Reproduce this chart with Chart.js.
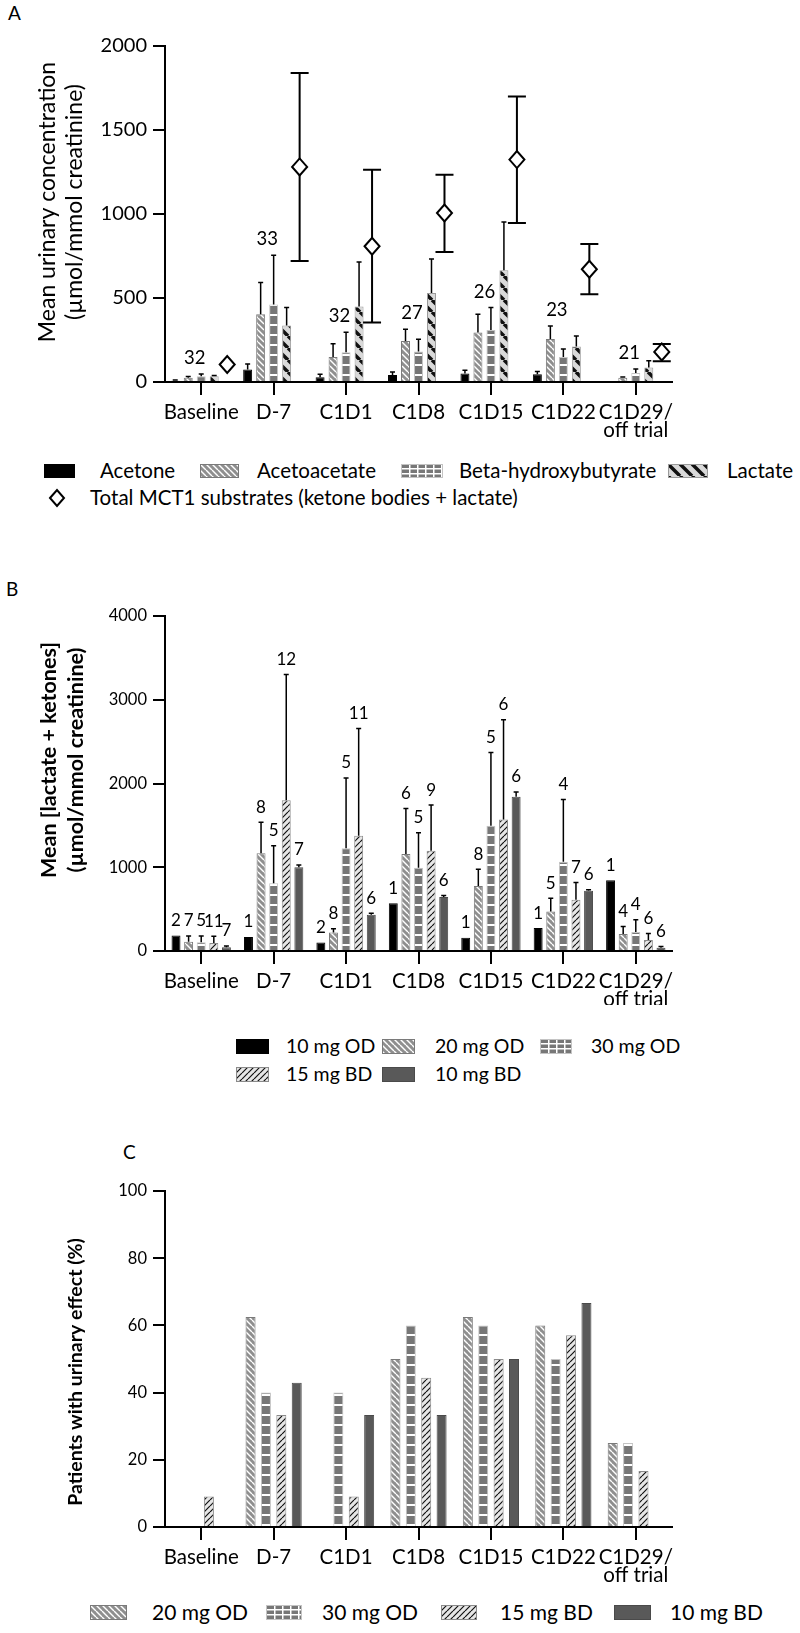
<!DOCTYPE html>
<html><head><meta charset="utf-8">
<script src="https://cdn.jsdelivr.net/npm/chart.js@4.4.1/dist/chart.umd.min.js"></script>
<style>
html,body{margin:0;padding:0;background:#fff}
body{position:relative;width:800px;height:1633px;overflow:hidden;font-family:Lato,sans-serif;color:#000}
canvas.chart{position:absolute;left:0}
.pl{position:absolute;font-size:19px;line-height:1}
.lg{position:absolute;white-space:nowrap;line-height:1}
.sw{position:absolute}
</style></head><body>
<div class="pl" style="left:8px;top:3px">A</div>
<div class="pl" style="left:6px;top:579px">B</div>
<div class="pl" style="left:123px;top:1142px">C</div>
<canvas id="cA" class="chart" width="800" height="445" style="top:0;width:800px;height:445px"></canvas>
<canvas id="cB" class="chart" width="800" height="445" style="top:560px;width:800px;height:445px"></canvas>
<canvas id="cC" class="chart" width="800" height="450" style="top:1140px;width:800px;height:450px"></canvas>
<script>
// ---------- DATA ----------
const categories = ['Baseline','D-7','C1D1','C1D8','C1D15','C1D22',['C1D29/','off trial']];

// Panel A
const yTicksA = [0,500,1000,1500,2000];
const acetone         = [8, 74, 28, 42, 50, 46, 6];
const acetoneErr      = [12, 107, 46, 60, 70, 62, null];
const acetoacetate    = [26, 403, 149, 244, 294, 256, 26];
const acetoacetateErr = [32, 592, 228, 314, 403, 333, 30];
const bhb             = [34, 462, 177, 181, 310, 149, 54];
const bhbErr          = [48, 754, 296, 254, 443, 197, 78];
const lactate         = [34, 336, 450, 530, 665, 212, 86];
const lactateErr      = [38, 443, 714, 732, 952, 274, 127];
const totalMCT1       = [104, 1280, 808, 1006, 1324, 671, 179];
const totalLow        = [null, 720, 354, 774, 946, 522, 123];
const totalHigh       = [null, 1839, 1264, 1234, 1700, 821, 226];
const nA              = [32, 33, 32, 27, 26, 23, 21];

// Panel B
const yTicksB = [0,1000,2000,3000,4000];
const od10      = [186, 167, 102, 571, 158, 274, 845];
const od10N     = [2, 1, 2, 1, 1, 1, 1];
const od20      = [110, 1167, 222, 1158, 777, 472, 202];
const od20Err   = [180, 1536, 265, 1702, 976, 631, 293];
const od20N     = [7, 8, 8, 6, 8, 5, 4];
const od30      = [105, 810, 1226, 995, 1496, 1067, 226];
const od30Err   = [180, 1257, 2067, 1412, 2369, 1810, 373];
const od30N     = [5, 5, 5, 5, 5, 4, 4];
const bd15      = [95, 1801, 1376, 1198, 1571, 611, 130];
const bd15Err   = [175, 3301, 2658, 1742, 2762, 817, 210];
const bd15N     = [11, 12, 11, 9, 6, 7, 6];
const bd10      = [45, 1000, 432, 646, 1841, 718, 40];
const bd10Err   = [60, 1027, 452, 662, 1900, 730, 55];
const bd10N     = [7, 7, 6, 6, 6, 6, 6];

// Panel C
const yTicksC = [0,20,40,60,80,100];
const pct20OD = [0, 62.5, 0, 50, 62.5, 60, 25];
const pct30OD = [0, 40, 40, 60, 60, 50, 25];
const pct15BD = [9.1, 33.3, 9.1, 44.4, 50, 57.1, 16.7];
const pct10BD = [0, 42.9, 33.3, 33.3, 50, 66.7, 0];

// ---------- PATTERNS ----------
function tile(w,h,draw){const c=document.createElement('canvas');c.width=w;c.height=h;draw(c.getContext('2d'),w,h);return c;}
function diag(x,s,dir,color,lw){x.strokeStyle=color;x.lineWidth=lw;x.beginPath();
  for(let k=-1;k<=1;k++){ if(dir==='\\'){x.moveTo(k*s,0);x.lineTo(k*s+s,s);} else {x.moveTo(k*s,s);x.lineTo(k*s+s,0);} } x.stroke();}
const tiles = {
  grayHatch: tile(6,6,(x,w,h)=>{x.fillStyle='#8f8f8f';x.fillRect(0,0,w,h);diag(x,6,'\\','#ffffff',1.4);}),
  hLines:    tile(10,10,(x,w,h)=>{x.fillStyle='#777777';x.fillRect(0,0,w,h);x.fillStyle='#ffffff';x.fillRect(0,4,w,2);}),
  lactate:   tile(12,12,(x,w,h)=>{x.fillStyle='#d9d9d9';x.fillRect(0,0,w,h);diag(x,12,'\\','#111111',3.5);}),
  fwd:       tile(6,6,(x,w,h)=>{x.fillStyle='#e6e6e6';x.fillRect(0,0,w,h);diag(x,6,'/','#111111',1.2);})
};
function fillFor(ctx,kind){
  if(kind==='black') return '#000000';
  if(kind==='dark') return '#595959';
  return ctx.createPattern(tiles[kind],'repeat');
}
const borderFor = {black:'#000000', dark:'#4a4a4a', grayHatch:'#7a7a7a', hLines:'#c4c4c4', lactate:'#9a9a9a', fwd:'#8a8a8a'};

// ---------- PLUGINS ----------
const titles = {
  cA:{lines:['Mean urinary concentration','(µmol/mmol creatinine)'], xs:[48,75], cy:202, size:23, weight:'normal'},
  cB:{lines:['Mean [lactate + ketones]','(µmol/mmol creatinine)'], xs:[49,76], cy:200, size:21.5, weight:'bold'},
  cC:{lines:['Patients with urinary effect (%)'], xs:[76], cy:232, size:19.5, weight:'bold'}
};
const yTitlePlugin = {id:'ytitle', afterDraw(chart){
  const t = titles[chart.canvas.id]; if(!t) return;
  const ctx=chart.ctx; ctx.save(); ctx.fillStyle='#000'; ctx.font=t.weight+' '+t.size+'px Lato';
  ctx.textAlign='center'; ctx.textBaseline='middle';
  t.lines.forEach((s,i)=>{ctx.save();ctx.translate(t.xs[i],t.cy);ctx.rotate(-Math.PI/2);ctx.fillText(s,0,0);ctx.restore();});
  ctx.restore();
}};
const errPlugin = {id:'errbars', afterDatasetsDraw(chart){
  const ctx=chart.ctx, ys=chart.scales.y;
  chart.data.datasets.forEach((ds,i)=>{
    if(!ds.errHigh) return;
    const meta=chart.getDatasetMeta(i);
    meta.data.forEach((bar,j)=>{
      const hi=ds.errHigh[j]; if(hi==null) return;
      const lo = ds.errLow ? ds.errLow[j] : ds.data[j];
      const x=bar.x, yh=ys.getPixelForValue(hi), yl=ys.getPixelForValue(lo==null?ds.data[j]:lo);
      ctx.save(); ctx.strokeStyle='#000'; ctx.lineWidth=ds.errWidth||1.5;
      ctx.beginPath(); ctx.moveTo(x,yl); ctx.lineTo(x,yh);
      ctx.moveTo(x-ds.errCap,yh); ctx.lineTo(x+ds.errCap,yh);
      if(ds.errLow){ctx.moveTo(x-ds.errCap,yl); ctx.lineTo(x+ds.errCap,yl);}
      ctx.stroke(); ctx.restore();
    });
  });
  chart.data.datasets.forEach((ds,i)=>{
    if(!ds.diamond) return;
    chart.getDatasetMeta(i).data.forEach((bar,j)=>{
      const x=bar.x, y=ys.getPixelForValue(ds.data[j]);
      ctx.save(); ctx.beginPath(); ctx.moveTo(x-7.5,y); ctx.lineTo(x,y-8.5); ctx.lineTo(x+7.5,y); ctx.lineTo(x,y+8.5); ctx.closePath();
      ctx.fillStyle='#fff'; ctx.fill(); ctx.strokeStyle='#000'; ctx.lineWidth=2; ctx.stroke(); ctx.restore();
    });
  });
}};
const nModes = {cA:{mode:'group', size:18.5, gap:16}, cB:{mode:'bar', size:17, gap:15}};
const nPlugin = {id:'nlab', afterDatasetsDraw(chart){
  const o=nModes[chart.canvas.id]; if(!o) return;
  const ctx=chart.ctx, ys=chart.scales.y; ctx.save(); ctx.fillStyle='#000'; ctx.font=o.size+'px Lato';
  ctx.textAlign='center'; ctx.textBaseline='middle';
  if(o.mode==='group'){
    const metas=[0,1,2,3].map(i=>chart.getDatasetMeta(i));
    chart.data.labels.forEach((_,j)=>{
      const cx=(metas[0].data[j].x+metas[3].data[j].x)/2;
      let top=Infinity;
      [0,1,2].forEach(i=>{const ds=chart.data.datasets[i]; const v=Math.max(ds.data[j], ds.errHigh[j]==null?0:ds.errHigh[j]); top=Math.min(top, ys.getPixelForValue(v));});
      ctx.fillText(String(nA[j]), cx, top-o.gap);
    });
  } else {
    chart.data.datasets.forEach((ds,i)=>{
      if(!ds.nLabels) return;
      chart.getDatasetMeta(i).data.forEach((bar,j)=>{
        const n=ds.nLabels[j]; if(n==null) return;
        const v=Math.max(ds.data[j], ds.errHigh && ds.errHigh[j]!=null ? ds.errHigh[j] : 0);
        ctx.fillText(String(n), bar.x, ys.getPixelForValue(v)-o.gap);
      });
    });
  }
  ctx.restore();
}};

// ---------- OPTIONS ----------
function makeOptions(o){
  return {
    responsive:false, animation:false, devicePixelRatio:1, events:[],
    layout:{padding:{top:o.top,right:128,left:0,bottom:0}},
    datasets:{bar:{categoryPercentage:o.cat, barPercentage:o.bar, borderWidth:1, borderSkipped:'start'}},
    plugins:{legend:{display:false}, tooltip:{enabled:false}},
    scales:{
      x:{ offset:true,
          grid:{display:true, offset:false, drawOnChartArea:false, drawTicks:true, tickLength:13, color:'#000', lineWidth:2},
          border:{display:true, color:'#000', width:2},
          ticks:{color:'#000', font:{family:'Lato', size:20.5, lineHeight:0.88}, padding:8, maxRotation:0, minRotation:0, autoSkip:false},
          afterFit:s=>{s.height=o.xh;} },
      y:{ min:0, max:o.ticks[o.ticks.length-1],
          afterBuildTicks:s=>{s.ticks=o.ticks.map(v=>({value:v}));},
          grid:{display:true, drawOnChartArea:false, drawTicks:true, tickLength:12, color:'#000', lineWidth:2},
          border:{display:true, color:'#000', width:2},
          ticks:{color:'#000', font:{family:'Lato', size:o.ytick}, padding:6, callback:v=>String(v)},
          afterFit:s=>{s.width=165;} }
    }
  };
}
function ds(ctx,label,data,kind,extra){
  return Object.assign({label, data, backgroundColor:fillFor(ctx,kind), borderColor:borderFor[kind], errCap:2.5, errWidth:1.5}, extra||{});
}

// ---------- LEGENDS ----------
function drawSwatch(x,kind,w,h){
  if(kind==='diamond'){
    const cx=w/2, cy=h/2; x.beginPath(); x.moveTo(cx-7,cy); x.lineTo(cx,cy-8); x.lineTo(cx+7,cy); x.lineTo(cx,cy+8); x.closePath();
    x.fillStyle='#fff'; x.fill(); x.strokeStyle='#000'; x.lineWidth=2; x.stroke(); return;
  }
  x.fillStyle=fillFor(x, kind==='grid'?'hLines':kind); x.fillRect(0,0,w,h);
  if(kind==='grid'){
    x.fillStyle='#777'; x.fillRect(0,0,w,h); x.fillStyle='#fff';
    for(let yy=4; yy<h-1; yy+=5) x.fillRect(0,yy,w,1.5);
    for(let xx=8; xx<w-1; xx+=8) x.fillRect(xx,0,1.5,h);
  }
  x.strokeStyle=borderFor[kind==='grid'?'hLines':kind]||'#000'; x.lineWidth=1; x.strokeRect(0.5,0.5,w-1,h-1);
}
function legendItem(kind,swX,swW,swH,textX,cy,label,size){
  const c=document.createElement('canvas'); c.width=swW; c.height=swH; c.className='sw';
  c.style.left=swX+'px'; c.style.top=(cy-swH/2)+'px'; drawSwatch(c.getContext('2d'),kind,swW,swH); document.body.appendChild(c);
  const d=document.createElement('div'); d.className='lg'; d.textContent=label; d.style.left=textX+'px';
  d.style.fontSize=size+'px'; d.style.top=(cy-size*0.53)+'px'; document.body.appendChild(d);
}

function build(){
  Chart.defaults.font.family='Lato';
  Chart.defaults.color='#000';
  const cA=document.getElementById('cA'), xA=cA.getContext('2d');
  new Chart(cA,{type:'bar', plugins:[errPlugin,nPlugin,yTitlePlugin],
    data:{labels:categories, datasets:[
      ds(xA,'Acetone',acetone,'black',{errHigh:acetoneErr}),
      ds(xA,'Acetoacetate',acetoacetate,'grayHatch',{errHigh:acetoacetateErr}),
      ds(xA,'Beta-hydroxybutyrate',bhb,'hLines',{errHigh:bhbErr}),
      ds(xA,'Lactate',lactate,'lactate',{errHigh:lactateErr}),
      {label:'Total MCT1 substrates (ketone bodies + lactate)', data:totalMCT1, errLow:totalLow, errHigh:totalHigh, diamond:true, errCap:9, errWidth:2, backgroundColor:'rgba(0,0,0,0)', borderWidth:0}
    ]},
    options:makeOptions({top:46, xh:63, ticks:yTicksA, ytick:20, cat:0.897, bar:0.69})
  });
  const cB=document.getElementById('cB'), xB=cB.getContext('2d');
  new Chart(cB,{type:'bar', plugins:[errPlugin,nPlugin,yTitlePlugin],
    data:{labels:categories, datasets:[
      ds(xB,'10 mg OD',od10,'black',{nLabels:od10N}),
      ds(xB,'20 mg OD',od20,'grayHatch',{errHigh:od20Err,nLabels:od20N}),
      ds(xB,'30 mg OD',od30,'hLines',{errHigh:od30Err,nLabels:od30N}),
      ds(xB,'15 mg BD',bd15,'fwd',{errHigh:bd15Err,nLabels:bd15N}),
      ds(xB,'10 mg BD',bd10,'dark',{errHigh:bd10Err,nLabels:bd10N})
    ]},
    options:makeOptions({top:56, xh:54, ticks:yTicksB, ytick:16.5, cat:0.87, bar:0.71})
  });
  const cC=document.getElementById('cC'), xC=cC.getContext('2d');
  new Chart(cC,{type:'bar', plugins:[yTitlePlugin],
    data:{labels:categories, datasets:[
      ds(xC,'20 mg OD',pct20OD,'grayHatch'),
      ds(xC,'30 mg OD',pct30OD,'hLines'),
      ds(xC,'15 mg BD',pct15BD,'fwd'),
      ds(xC,'10 mg BD',pct10BD,'dark')
    ]},
    options:makeOptions({top:51, xh:63, ticks:yTicksC, ytick:16.5, cat:0.85, bar:0.65})
  });

  legendItem('black',44,31,14,100,471,'Acetone',20.5);
  legendItem('grayHatch',200,39,14,257,471,'Acetoacetate',20.5);
  legendItem('grid',401,42,14,459,471,'Beta-hydroxybutyrate',20.5);
  legendItem('lactate',668,40,14,727,471,'Lactate',20.5);
  legendItem('diamond',47,20,20,90,498,'Total MCT1 substrates (ketone bodies + lactate)',20.5);

  legendItem('black',236,33,15,286,1046,'10 mg OD',19.5);
  legendItem('grayHatch',382,33,15,435,1046,'20 mg OD',19.5);
  legendItem('grid',540,32,15,591,1046,'30 mg OD',19.5);
  legendItem('fwd',236,33,15,286,1074,'15 mg BD',19.5);
  legendItem('dark',382,33,15,435,1074,'10 mg BD',19.5);

  legendItem('grayHatch',90,37,15,152,1612,'20 mg OD',21);
  legendItem('grid',266,36,15,322,1612,'30 mg OD',21);
  legendItem('fwd',441,36,15,500,1612,'15 mg BD',21);
  legendItem('dark',614,37,15,670,1612,'10 mg BD',21);
}
if(document.fonts && document.fonts.load){
  Promise.all([document.fonts.load('20px Lato'),document.fonts.load('bold 20px Lato')]).then(build,build);
} else build();
</script>
</body></html>
